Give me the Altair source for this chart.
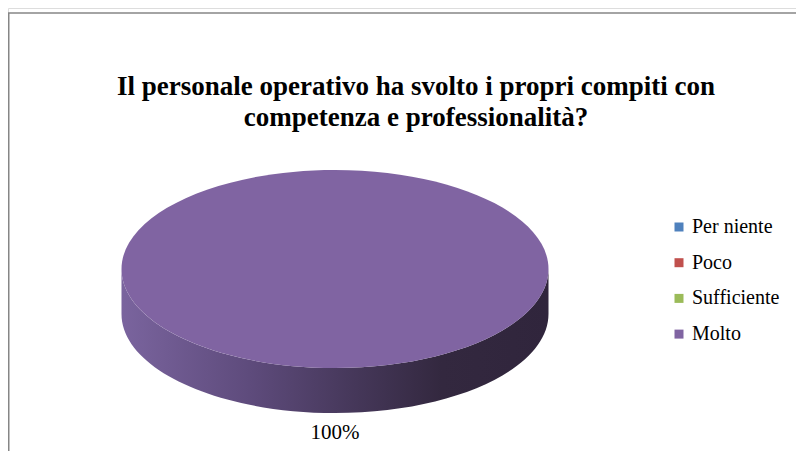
import math
import altair as alt
import pandas as pd

# ---- data ----
categories = ["Per niente", "Poco", "Sufficiente", "Molto"]
values = [0, 0, 0, 100]
colors = ["#4F81BD", "#C0504D", "#9BBB59", "#8064A2"]
title_lines = ["Il personale operativo ha svolto i propri compiti con",
               "competenza e professionalità?"]

# ---- layout / style constants ----
W, H = 788, 443
CX, CY = 327, 261          # pie centre (view px)
RX = 213.5                 # horizontal radius (px)
RY_U = 99 / RX             # vertical radius in unit coords
D_U = 45 / RX              # depth in unit coords
SIZE = (2 * RX) ** 2
SERIF = "'Times New Roman', 'Liberation Serif', serif"


def top_path(a0, a1):
    """Elliptical wedge in unit coords, angles in degrees, 0 = 12 o'clock, clockwise."""
    if a1 - a0 >= 359.999:
        return (f"M -1 0 A 1 {RY_U:.4f} 0 1 1 1 0 "
                f"A 1 {RY_U:.4f} 0 1 1 -1 0 Z")
    def pt(a):
        r = math.radians(a)
        return math.sin(r), -RY_U * math.cos(r)
    x0, y0 = pt(a0)
    x1, y1 = pt(a1)
    large = 1 if a1 - a0 > 180 else 0
    return (f"M 0 0 L {x0:.4f} {y0:.4f} "
            f"A 1 {RY_U:.4f} 0 {large} 1 {x1:.4f} {y1:.4f} Z")


def side_path(a0, a1):
    s, e = max(a0, 90), min(a1, 270)
    if e <= s:
        return None
    def pt(a, dy=0.0):
        r = math.radians(a)
        return math.sin(r), -RY_U * math.cos(r) + dy
    xs, ys = pt(s)
    xe, ye = pt(e)
    large = 1 if e - s > 180 else 0
    return (f"M {xs:.4f} {ys:.4f} L {xs:.4f} {ys + D_U:.4f} "
            f"A 1 {RY_U:.4f} 0 {large} 1 {xe:.4f} {ye + D_U:.4f} "
            f"L {xe:.4f} {ye:.4f} "
            f"A 1 {RY_U:.4f} 0 {large} 0 {xs:.4f} {ys:.4f} Z")


total = sum(values)
rows = []
acc = 0.0
for c, v in zip(categories, values):
    a0 = acc / total * 360
    acc += v
    a1 = acc / total * 360
    if v > 0:
        rows.append({"cat": c, "value": v,
                     "pct": f"{round(v / total * 100)}%",
                     "top": top_path(a0, a1),
                     "side": side_path(a0, a1)})
df = pd.DataFrame(rows)
side_df = df[df["side"].notna()]

color_scale = alt.Scale(domain=categories, range=colors)

side = alt.Chart(side_df).mark_point(
    filled=True, opacity=1, strokeWidth=0,
    fill=alt.Gradient(gradient="linear", x1=0, x2=1, y1=0, y2=0, stops=[
        alt.GradientStop(color="#7a649e", offset=0),
        alt.GradientStop(color="#5e4b7c", offset=0.3),
        alt.GradientStop(color="#453759", offset=0.55),
        alt.GradientStop(color="#33283f", offset=0.75),
        alt.GradientStop(color="#30253c", offset=1),
    ])
).encode(
    x=alt.value(CX), y=alt.value(CY),
    shape=alt.Shape("side:N", scale=None),
    size=alt.value(SIZE),
)

top = alt.Chart(df).mark_point(filled=True, opacity=1, strokeWidth=0).encode(
    x=alt.value(CX), y=alt.value(CY),
    shape=alt.Shape("top:N", scale=None),
    size=alt.value(SIZE),
    color=alt.Color("cat:N", scale=color_scale, sort=categories, title=None,
                    legend=alt.Legend(orient="none", legendX=661, legendY=209,
                                      symbolType="square", symbolSize=81,
                                      symbolStrokeWidth=0, labelFont=SERIF,
                                      labelFontSize=20, labelColor="#000000",
                                      labelOffset=3, rowPadding=15.7, padding=0,
                                      labelLimit=200)),
)

labels = alt.Chart(df).mark_text(
    font=SERIF, fontSize=21, color="#000000", baseline="alphabetic", align="center"
).encode(x=alt.value(CX), y=alt.value(431), text="pct:N")

title_df = pd.DataFrame({"t": ["\n".join(title_lines)]})
title = alt.Chart(title_df).mark_text(
    font=SERIF, fontSize=27, fontWeight="bold", color="#000000",
    baseline="alphabetic", align="center", lineBreak="\n", lineHeight=31
).encode(x=alt.value(408), y=alt.value(87), text="t:N")

border = alt.Chart(title_df).mark_rect(
    fill=None, stroke="#868686", strokeWidth=1.5
).encode(x=alt.value(0.75), y=alt.value(5), x2=alt.value(2000), y2=alt.value(2000))

chart = alt.layer(border, side, top, labels, title).properties(
    width=W, height=H, padding=0, autosize=alt.AutoSizeParams(type="none")
).configure_view(stroke=None).configure(background="white")

chart.save("out.html", embed_options={"renderer": "svg", "actions": False})
